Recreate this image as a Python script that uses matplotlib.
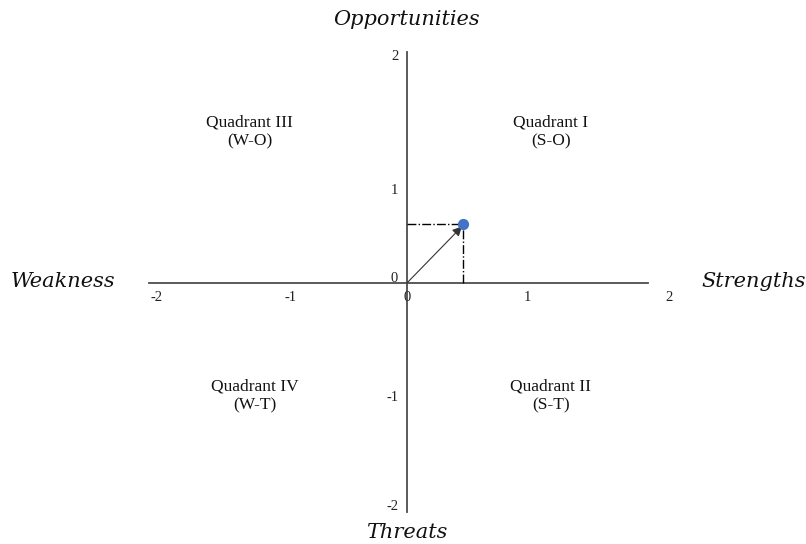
import matplotlib.pyplot as plt

# SWOT position
point_x = [0.45]
point_y = [0.52]

tick_labels = ["-2", "-1", "0", "1", "2"]
# label placement as it appears on the source figure (not evenly spaced)
x_label_pos = [-2.0, -0.93, 0.0, 0.96, 2.10]
y_label_pos = [-1.98, -1.01, 0.04, 0.82, 2.0]

quadrant_names = ["Quadrant I\n(S-O)", "Quadrant II\n(S-T)", "Quadrant III\n(W-O)", "Quadrant IV\n(W-T)"]
quadrant_x = [1.15, 1.15, -1.26, -1.22]
quadrant_y = [1.34, -1.0, 1.34, -1.0]

fig = plt.figure(figsize=(8.06, 5.44), dpi=100)
ax = fig.add_axes([0, 0, 1, 1])
ax.set_xlim(-3.256, 3.192)
ax.set_ylim(-2.310, 2.504)
ax.axis("off")

serif = "Liberation Serif"
axis_col = "#4d4d4d"

# axes lines
ax.plot([-2.06, 1.93], [0, 0], color=axis_col, lw=1.3, zorder=1)
ax.plot([0, 0], [-2.03, 2.04], color=axis_col, lw=1.3, zorder=1)

# tick labels
for xp, yp, lab in zip(x_label_pos, y_label_pos, tick_labels):
    ax.text(xp, -0.13, lab, ha="center", va="center", fontsize=10.5, family=serif, color="#222222")
    ax.text(-0.07, yp, lab, ha="right", va="center", fontsize=10.5, family=serif, color="#222222")

# dash-dot projections
ax.plot([0, point_x[0]], [point_y[0], point_y[0]], color="black", lw=1, ls="-.")
ax.plot([point_x[0], point_x[0]], [0, point_y[0]], color="black", lw=1, ls="-.")

# arrow from origin
ax.annotate("", xy=(point_x[0] - 0.01, point_y[0] - 0.02), xytext=(0, 0),
            arrowprops=dict(arrowstyle="-|>", color="#333333", lw=0.8,
                            mutation_scale=14, shrinkA=0, shrinkB=0))
ax.scatter(point_x, point_y, s=50, color="#4472C4", zorder=3)

for name, qx, qy in zip(quadrant_names, quadrant_x, quadrant_y):
    ax.text(qx, qy, name, ha="center", va="center", fontsize=12.5, family=serif,
            linespacing=1.25, color="#111111")

side = dict(fontsize=15, family="DejaVu Serif", style="italic", color="#111111", ha="center", va="center")
ax.text(0, 2.33, "Opportunities", **side)
ax.text(0, -2.21, "Threats", **side)
ax.text(-2.75, 0.01, "Weakness", **side)
ax.text(2.77, 0.01, "Strengths", **side)

fig.savefig("out.png", dpi=100)
